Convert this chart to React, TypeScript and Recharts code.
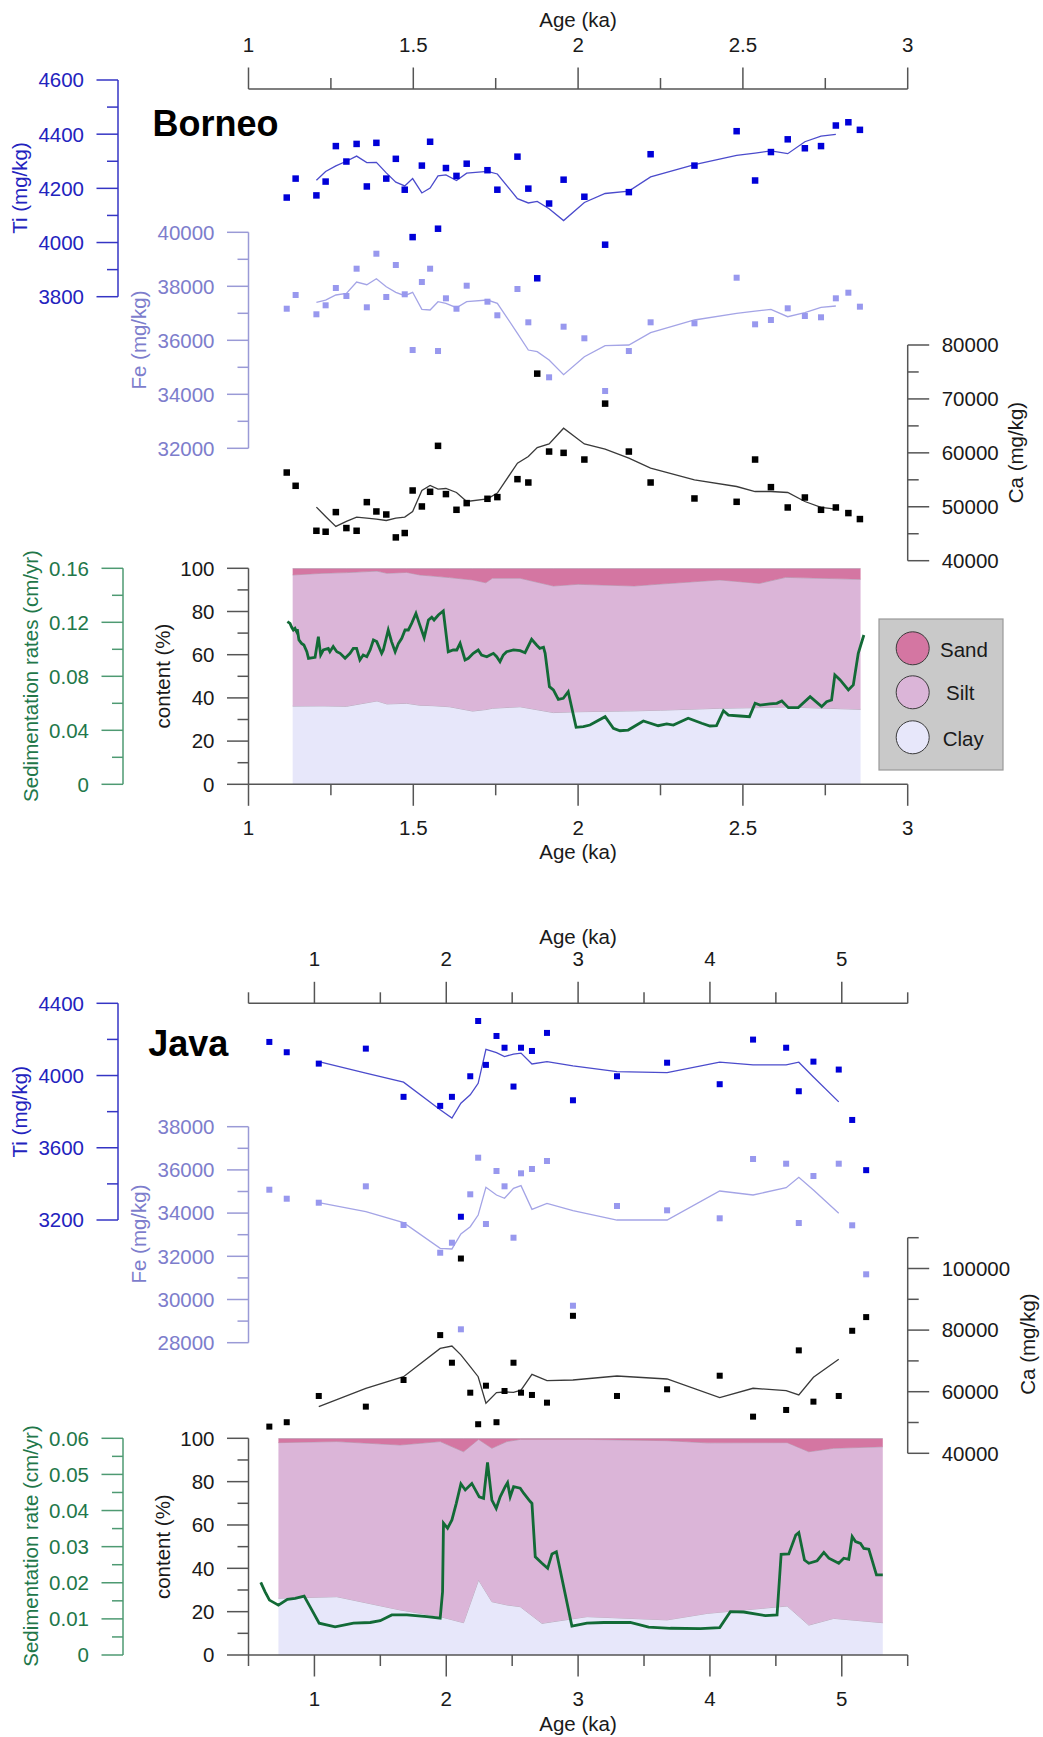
import React from 'react';
import { ComposedChart, XAxis, YAxis, Line, Scatter, Area } from 'recharts';

const PAGE_W = 1043;
const PAGE_H = 1737;
const FONT = "'Liberation Sans', Arial, Helvetica, sans-serif";
const FS = 20.5;

// ---------------- Borneo data ----------------
const borneoAge = [1.116,1.143,1.206,1.234,1.265,1.297,1.328,1.359,1.388,1.418,1.447,1.474,1.498,1.526,1.551,1.575,1.599,1.631,1.662,1.725,1.755,1.816,1.849,1.876,1.912,1.956,2.019,2.082,2.154,2.220,2.353,2.481,2.537,2.585,2.636,2.688,2.737,2.782,2.820,2.855];
const borneoTi = [4166,4236,4174,4225,4356,4299,4364,4207,4368,4236,4309,4195,4020,4284,4372,4051,4275,4246,4291,4267,4195,4317,4199,3868,4144,4232,4169,3992,4186,4326,4284,4411,4229,4334,4381,4348,4356,4432,4444,4416];
const borneoFe = [37170,37678,36963,37296,37937,37641,38652,37222,39207,37604,38789,37704,35640,38159,38652,35603,37555,37170,38022,37430,36926,37900,36666,null,34629,36504,36074,34122,35603,36666,36629,38318,36592,36752,37185,36900,36852,37555,37763,37245];
const borneoCa = [56350,53890,45550,45370,49010,46050,45550,50860,49130,48570,44320,45130,53020,50060,52780,61300,52350,49440,50680,51480,51790,55120,54500,74690,60240,60000,58760,69130,60240,54500,51540,50920,58760,53640,49870,51720,49440,49870,48830,47720];

const borneoSmoothAge = [1.206,1.234,1.265,1.297,1.328,1.359,1.388,1.418,1.447,1.474,1.498,1.526,1.551,1.575,1.599,1.631,1.662,1.725,1.755,1.816,1.849,1.876,1.912,1.956,2.019,2.082,2.154,2.220,2.353,2.481,2.537,2.585,2.636,2.688,2.737,2.782];
const borneoTiSmooth = [4230,4262,4283,4300,4319,4295,4296,4257,4223,4209,4236,4183,4201,4246,4250,4229,4256,4263,4253,4162,4146,4152,4125,4081,4148,4181,4190,4242,4288,4322,4330,4338,4328,4372,4393,4399];
const borneoFeSmooth = [37407,37492,37678,37740,38159,38060,38281,37985,37778,37652,37778,37148,37122,37430,37370,37207,37430,37492,37370,36259,35640,35578,35270,34726,35393,35800,35826,36282,36752,37000,37080,37148,36874,37022,37222,37270];
const borneoCaSmooth = [49940,48200,46350,47280,48090,47900,47720,47460,47900,48090,49130,53020,53940,53280,53390,52650,50980,51480,52540,58090,59310,60980,61660,64570,61660,60680,59010,57170,55000,53760,52830,52830,52650,50980,49870,49570];

const borneoGrainAge = [1.134,1.226,1.297,1.39,1.42,1.48,1.52,1.56,1.61,1.68,1.72,1.74,1.824,1.925,2.0,2.17,2.25,2.43,2.55,2.63,2.857];
const borneoClay = [36.2,36.3,36.1,38.6,37.2,37.5,36.6,36.4,35.9,33.9,34.6,35.2,35.9,33.2,33.6,34.0,34.3,35.2,35.5,35.8,34.7];
const borneoSilt = [60.7,61.4,61.9,60.1,60.5,60.6,60.3,60.0,59.8,60.7,58.7,60.2,59.5,58.6,59.0,57.8,58.4,59.4,57.5,60.0,60.2];
const borneoSand = [3.1,2.3,2.0,1.3,2.3,1.9,3.1,3.6,4.3,5.4,6.7,4.6,4.6,8.2,7.4,8.2,7.3,5.4,7.0,4.2,5.1];

const borneoSedAge = [1.118,1.126,1.131,1.136,1.141,1.146,1.148,1.153,1.161,1.168,1.177,1.182,1.202,1.212,1.219,1.227,1.242,1.247,1.257,1.268,1.278,1.293,1.308,1.318,1.328,1.338,1.348,1.359,1.369,1.379,1.389,1.404,1.409,1.424,1.434,1.445,1.455,1.465,1.475,1.485,1.495,1.508,1.518,1.533,1.546,1.556,1.563,1.576,1.591,1.606,1.621,1.632,1.642,1.657,1.667,1.682,1.697,1.707,1.723,1.733,1.743,1.753,1.763,1.773,1.783,1.804,1.824,1.839,1.859,1.874,1.884,1.895,1.900,1.913,1.925,1.940,1.955,1.970,1.994,2.016,2.036,2.082,2.107,2.127,2.152,2.198,2.243,2.269,2.289,2.334,2.375,2.400,2.420,2.441,2.456,2.491,2.520,2.537,2.552,2.582,2.603,2.618,2.638,2.668,2.704,2.739,2.754,2.769,2.779,2.795,2.820,2.835,2.850,2.867];
const borneoSed = [0.1205,0.1192,0.1163,0.1143,0.1155,0.1131,0.1148,0.1069,0.1044,0.1032,0.0982,0.0933,0.0941,0.1094,0.0958,0.0995,0.1007,0.0982,0.1020,0.0982,0.0970,0.0933,0.0970,0.1007,0.1007,0.0921,0.0958,0.0945,0.0995,0.1069,0.1057,0.0970,0.0995,0.1143,0.1057,0.0982,0.1044,0.1081,0.1143,0.1143,0.1192,0.1266,0.1192,0.1086,0.1217,0.1237,0.1217,0.1254,0.1284,0.0982,0.0995,0.0995,0.1044,0.0921,0.0933,0.0970,0.0995,0.0958,0.0945,0.0958,0.0970,0.0945,0.0908,0.0958,0.0982,0.0995,0.0990,0.0975,0.1074,0.1032,0.1007,0.1015,0.0970,0.0723,0.0699,0.0629,0.0637,0.0686,0.0422,0.0427,0.0439,0.0501,0.0415,0.0397,0.0402,0.0469,0.0434,0.0447,0.0439,0.0489,0.0452,0.0432,0.0434,0.0545,0.0513,0.0506,0.0501,0.0600,0.0587,0.0595,0.0600,0.0617,0.0568,0.0568,0.0649,0.0575,0.0612,0.0624,0.0810,0.0773,0.0699,0.0736,0.0970,0.1106];

// ---------------- Java data ----------------
const javaAge = [0.658,0.790,1.033,1.390,1.676,1.954,2.043,2.111,2.182,2.242,2.301,2.381,2.442,2.510,2.567,2.650,2.764,2.961,3.295,3.675,4.074,4.327,4.578,4.674,4.785,4.977,5.079,5.185];
const javaTi = [4186,4129,4066,4149,3882,3832,3882,3218,3996,4302,4059,4219,4154,3939,4154,4136,4236,3863,3996,4071,3952,4199,4154,3913,4077,4033,3754,3476];
const javaFe = [35083,34666,34481,35240,33449,32166,32629,28620,34870,36565,33495,35949,35240,32861,35842,36042,36412,29712,34329,34129,33759,36505,36287,33541,35717,36287,33435,31166];
const javaCa = [48670,50090,58610,55150,63800,78380,69410,103240,59680,49440,61950,50090,60230,69410,59680,58940,56440,84640,58610,60780,65190,51900,54070,73420,56770,58610,79780,84220];

const javaSmoothAge = [1.033,1.390,1.676,1.954,2.043,2.111,2.182,2.242,2.301,2.381,2.442,2.510,2.567,2.650,2.764,2.961,3.295,3.675,4.074,4.327,4.578,4.674,4.785,4.977];
const javaTiSmooth = [4077,4013,3963,3810,3764,3847,3893,3957,4145,4127,4105,4119,4124,4064,4077,4053,4022,4016,4074,4059,4059,4074,3992,3854];
const javaFeSmooth = [34481,34065,33555,32370,32340,33032,33370,33912,35194,34838,34685,35148,35270,34175,34453,34111,33680,33680,35023,34838,35176,35657,35069,33990];
const javaCaSmooth = [55150,61110,64870,74070,74820,71960,68110,64870,56250,59700,59900,59800,60500,65640,63570,63800,65100,64120,58060,61110,60330,58940,64670,70510];

const javaGrainAge = [0.727,1.170,1.650,1.954,2.131,2.245,2.346,2.460,2.561,2.726,3.068,3.675,3.979,4.586,4.750,4.939,5.311];
const javaClay = [26.2,26.9,20.8,17.7,14.9,34.6,24.6,23.1,22.3,14.6,17.7,16.2,19.2,22.6,13.8,16.9,14.9];
const javaSilt = [71.8,71.6,76.1,80.8,78.9,64.9,70.8,75.4,77.2,84.9,81.8,82.7,78.7,75.4,80.0,78.5,81.2];
const javaSand = [2.0,1.5,3.1,1.5,6.2,0.5,4.6,1.5,0.5,0.5,0.5,1.1,2.1,2.0,6.2,4.6,3.9];

const javaSedAge = [0.593,0.626,0.659,0.727,0.795,0.854,0.922,0.980,1.036,1.157,1.296,1.423,1.499,1.587,1.701,1.853,1.954,1.972,1.979,2.010,2.043,2.076,2.111,2.144,2.194,2.250,2.283,2.313,2.346,2.379,2.409,2.447,2.465,2.485,2.511,2.561,2.587,2.637,2.650,2.675,2.726,2.769,2.802,2.835,2.953,3.067,3.194,3.396,3.535,3.700,3.928,4.074,4.155,4.256,4.421,4.509,4.540,4.598,4.651,4.674,4.717,4.750,4.813,4.864,4.902,4.977,5.015,5.053,5.079,5.104,5.142,5.167,5.205,5.263,5.311];
const javaSed = [0.0201,0.0175,0.0152,0.0138,0.0154,0.0157,0.0163,0.0125,0.0088,0.0078,0.0088,0.0090,0.0095,0.0111,0.0111,0.0106,0.0102,0.0175,0.0365,0.0351,0.0374,0.0420,0.0474,0.0457,0.0475,0.0438,0.0434,0.0533,0.0429,0.0406,0.0438,0.0466,0.0477,0.0438,0.0466,0.0462,0.0448,0.0425,0.0420,0.0272,0.0254,0.0240,0.0280,0.0286,0.0080,0.0088,0.0090,0.0090,0.0077,0.0074,0.0073,0.0076,0.0120,0.0119,0.0109,0.0111,0.0279,0.0280,0.0332,0.0339,0.0263,0.0254,0.0261,0.0284,0.0268,0.0254,0.0268,0.0265,0.0328,0.0314,0.0309,0.0295,0.0293,0.0222,0.0222];

// ---------------- ticks ----------------
const borneoXTicks = [1,1.25,1.5,1.75,2,2.25,2.5,2.75,3];
const borneoXMajor = [1,1.5,2,2.5,3];
const javaXTicks = [0.5,1,1.5,2,2.5,3,3.5,4,4.5,5,5.5];
const javaXMajor = [1,2,3,4,5];
const borneoTiTicks = [3800,3900,4000,4100,4200,4300,4400,4500,4600];
const borneoTiMajor = [3800,4000,4200,4400,4600];
const borneoFeTicks = [32000,33000,34000,35000,36000,37000,38000,39000,40000];
const borneoFeMajor = [32000,34000,36000,38000,40000];
const borneoCaTicks = [40000,45000,50000,55000,60000,65000,70000,75000,80000];
const borneoCaMajor = [40000,50000,60000,70000,80000];
const contentTicks = [0,10,20,30,40,50,60,70,80,90,100];
const contentMajor = [0,20,40,60,80,100];
const borneoSedTicks = [0,0.02,0.04,0.06,0.08,0.1,0.12,0.14,0.16];
const borneoSedMajor = [0,0.04,0.08,0.12,0.16];
const javaTiTicks = [3200,3400,3600,3800,4000,4200,4400];
const javaTiMajor = [3200,3600,4000,4400];
const javaFeTicks = [28000,29000,30000,31000,32000,33000,34000,35000,36000,37000,38000];
const javaFeMajor = [28000,30000,32000,34000,36000,38000];
const javaCaTicks = [40000,50000,60000,70000,80000,90000,100000,110000];
const javaCaMajor = [40000,60000,80000,100000];
const javaSedTicks = [0,0.005,0.01,0.015,0.02,0.025,0.03,0.035,0.04,0.045,0.05,0.055,0.06];
const javaSedMajor = [0,0.01,0.02,0.03,0.04,0.05,0.06];

// ---------------- colors ----------------
const C = {
  tiAxis: '#3535c4', tiText: '#2323be', tiMark: '#0000d8', tiLine: '#4b4bcc',
  feAxis: '#9a9ad6', feText: '#7d7dcc', feMark: '#9898ee', feLine: '#a4a4e6',
  caAxis: '#555555', caText: '#1a1a1a', caMark: '#000000', caLine: '#3a3a3a',
  sedAxis: '#4e9a72', sedText: '#22774a', sedLine: '#126a36',
  axis: '#555555', text: '#1a1a1a',
  sand: '#d476a2', silt: '#dbb5d8', clay: '#e7e7fa', areaEdge: '#ab9cae',
};

// ---------------- geometry helpers ----------------
const kaB = (px: number) => 1 + (px - 248.5) / 329.6;
const kaJ = (px: number) => 0.5 + (px - 248.5) / 131.84;

const pts = (ages: number[], vals: (number | null)[]) =>
  ages.map((a, i) => ({ age: a, v: vals[i] })).filter((d) => d.v !== null);

const grain = (ages: number[], clay: number[], silt: number[], sand: number[]) =>
  ages.map((a, i) => ({ age: a, clay: clay[i], silt: silt[i], sand: sand[i] }));

function Layer(props: any) {
  const { l, t, r, b, lw = 0, rw = 0, th = 0, bh = 0, data, children } = props;
  return (
    <div style={{ position: 'absolute', left: 0, top: 0, width: PAGE_W, height: PAGE_H }}>
      <ComposedChart
        width={PAGE_W}
        height={PAGE_H}
        data={data}
        margin={{ left: l - lw, top: t - th, right: PAGE_W - r - rw, bottom: PAGE_H - b - bh }}
      >
        {children}
      </ComposedChart>
    </div>
  );
}

function yTick(side: 'left' | 'right', majors: number[], lineColor: string, textColor: string) {
  return (p: any) => {
    const { x, y, payload } = p;
    const v = payload.value;
    const major = majors.includes(v);
    const len = major ? 21.5 : 11;
    const s = side === 'left' ? -1 : 1;
    return (
      <g>
        <line x1={x} y1={y} x2={x + s * len} y2={y} stroke={lineColor} strokeWidth={1.5} />
        {major && (
          <text
            x={x + s * (21.5 + 12.5)}
            y={y}
            dy="0.36em"
            textAnchor={side === 'left' ? 'end' : 'start'}
            fill={textColor}
            fontSize={FS}
            fontFamily={FONT}
          >
            {String(v)}
          </text>
        )}
      </g>
    );
  };
}

function xTick(side: 'top' | 'bottom', majors: number[], labelOffset: number) {
  return (p: any) => {
    const { x, y, payload } = p;
    const v = payload.value;
    const major = majors.includes(v);
    const len = major ? 21.5 : 11;
    const s = side === 'top' ? -1 : 1;
    return (
      <g>
        <line x1={x} y1={y} x2={x} y2={y + s * len} stroke={C.axis} strokeWidth={1.5} />
        {major && (
          <text x={x} y={y + labelOffset} textAnchor="middle" fill={C.text} fontSize={FS} fontFamily={FONT}>
            {String(v)}
          </text>
        )}
      </g>
    );
  };
}

const square = (size: number, color: string) => (p: any) =>
  p.cx == null ? <g /> : <rect x={p.cx - size / 2} y={p.cy - size / 2} width={size} height={size} fill={color} />;

function VText(props: any) {
  const { x, y, color, children } = props;
  return (
    <text
      x={x}
      y={y}
      transform={`rotate(-90, ${x}, ${y})`}
      textAnchor="middle"
      fill={color}
      fontSize={FS}
      fontFamily={FONT}
    >
      {children}
    </text>
  );
}

function ElementLayer(props: any) {
  const { l, r, t, b, side, xDomain, yDomain, ticks, majors, axisColor, textColor, samples, smooth, mark, line, markSize } = props;
  const isLeft = side === 'left';
  return (
    <Layer l={l} r={r} t={t} b={b} lw={isLeft ? 100 : 0} rw={isLeft ? 0 : 100}>
      <XAxis type="number" dataKey="age" domain={xDomain} allowDataOverflow hide />
      <YAxis
        type="number"
        orientation={side}
        width={100}
        domain={yDomain}
        allowDataOverflow
        ticks={ticks}
        interval={0}
        tickSize={0}
        tickMargin={0}
        tickLine={false}
        axisLine={{ stroke: axisColor, strokeWidth: 1.5 }}
        tick={yTick(side, majors, axisColor, textColor)}
      />
      <Line data={smooth} dataKey="v" stroke={line} strokeWidth={1.3} dot={false} isAnimationActive={false} />
      <Scatter data={samples} dataKey="v" shape={square(markSize, mark)} isAnimationActive={false} />
    </Layer>
  );
}

function ContentLayer(props: any) {
  const { t, b, xDomain, xTicks, xMajor, data } = props;
  return (
    <Layer l={248.5} r={907.7} t={t} b={b} lw={100} bh={80} data={data}>
      <XAxis
        type="number"
        dataKey="age"
        domain={xDomain}
        allowDataOverflow
        orientation="bottom"
        height={80}
        ticks={xTicks}
        interval={0}
        tickSize={0}
        tickMargin={0}
        tickLine={false}
        axisLine={{ stroke: C.axis, strokeWidth: 1.5 }}
        tick={xTick('bottom', xMajor, 50.7)}
      />
      <YAxis
        type="number"
        width={100}
        domain={[0, 100]}
        allowDataOverflow
        ticks={contentTicks}
        interval={0}
        tickSize={0}
        tickMargin={0}
        tickLine={false}
        axisLine={{ stroke: C.axis, strokeWidth: 1.5 }}
        tick={yTick('left', contentMajor, C.axis, C.text)}
      />
      <Area type="linear" dataKey="clay" stackId="g" fill={C.clay} fillOpacity={1} stroke={C.areaEdge} strokeWidth={0.8} isAnimationActive={false} />
      <Area type="linear" dataKey="silt" stackId="g" fill={C.silt} fillOpacity={1} stroke={C.areaEdge} strokeWidth={0.8} isAnimationActive={false} />
      <Area type="linear" dataKey="sand" stackId="g" fill={C.sand} fillOpacity={1} stroke={C.areaEdge} strokeWidth={0.8} isAnimationActive={false} />
    </Layer>
  );
}

function SedLayer(props: any) {
  const { t, b, xDomain, yDomain, ticks, majors, data } = props;
  return (
    <Layer l={123} r={907.7} t={t} b={b} lw={100}>
      <XAxis type="number" dataKey="age" domain={xDomain} allowDataOverflow hide />
      <YAxis
        type="number"
        width={100}
        domain={yDomain}
        allowDataOverflow
        ticks={ticks}
        interval={0}
        tickSize={0}
        tickMargin={0}
        tickLine={false}
        axisLine={{ stroke: C.sedAxis, strokeWidth: 1.5 }}
        tick={yTick('left', majors, C.sedAxis, C.sedText)}
      />
      <Line data={data} dataKey="v" stroke={C.sedLine} strokeWidth={2.8} dot={false} isAnimationActive={false} />
    </Layer>
  );
}

function TopAxisLayer(props: any) {
  const { t, xDomain, xTicks, xMajor, children } = props;
  return (
    <Layer l={248.5} r={907.7} t={t} b={t + 100} th={60}>
      <XAxis
        type="number"
        dataKey="age"
        domain={xDomain}
        allowDataOverflow
        orientation="top"
        height={60}
        ticks={xTicks}
        interval={0}
        tickSize={0}
        tickMargin={0}
        tickLine={false}
        axisLine={{ stroke: C.axis, strokeWidth: 1.5 }}
        tick={xTick('top', xMajor, -37.5)}
      />
      <YAxis type="number" domain={[0, 1]} hide />
      {children}
    </Layer>
  );
}

function TextLayer(props: any) {
  return (
    <Layer l={0} r={PAGE_W} t={0} b={PAGE_H}>
      <XAxis type="number" domain={[0, 1]} hide />
      <YAxis type="number" domain={[0, 1]} hide />
      {props.children}
    </Layer>
  );
}

export default function App() {
  return (
    <div style={{ position: 'absolute', left: 0, top: 0, width: PAGE_W, height: PAGE_H, background: '#ffffff' }}>
      {/* ===== Borneo ===== */}
      <ContentLayer t={568.3} b={784.3} xDomain={[1, 3]} xTicks={borneoXTicks} xMajor={borneoXMajor}
        data={grain(borneoGrainAge, borneoClay, borneoSilt, borneoSand)} />
      <SedLayer t={568.3} b={784.3} xDomain={[kaB(123), 3]} yDomain={[0, 0.16]} ticks={borneoSedTicks}
        majors={borneoSedMajor} data={pts(borneoSedAge, borneoSed)} />
      <ElementLayer l={248.5} r={907.7} t={345} b={560.7} side="right" xDomain={[1, 3]} yDomain={[40000, 80000]}
        ticks={borneoCaTicks} majors={borneoCaMajor} axisColor={C.caAxis} textColor={C.caText}
        samples={pts(borneoAge, borneoCa)} smooth={pts(borneoSmoothAge, borneoCaSmooth)} mark={C.caMark} line={C.caLine} markSize={6.5} />
      <ElementLayer l={248.5} r={907.7} t={232.3} b={448.3} side="left" xDomain={[1, 3]} yDomain={[32000, 40000]}
        ticks={borneoFeTicks} majors={borneoFeMajor} axisColor={C.feAxis} textColor={C.feText}
        samples={pts(borneoAge, borneoFe)} smooth={pts(borneoSmoothAge, borneoFeSmooth)} mark={C.feMark} line={C.feLine} markSize={6} />
      <ElementLayer l={118} r={907.7} t={80} b={296.7} side="left" xDomain={[kaB(118), 3]} yDomain={[3800, 4600]}
        ticks={borneoTiTicks} majors={borneoTiMajor} axisColor={C.tiAxis} textColor={C.tiText}
        samples={pts(borneoAge, borneoTi)} smooth={pts(borneoSmoothAge, borneoTiSmooth)} mark={C.tiMark} line={C.tiLine} markSize={6.5} />
      <TopAxisLayer t={89} xDomain={[1, 3]} xTicks={borneoXTicks} xMajor={borneoXMajor} />

      {/* ===== Java ===== */}
      <ContentLayer t={1438.3} b={1655} xDomain={[0.5, 5.5]} xTicks={javaXTicks} xMajor={javaXMajor}
        data={grain(javaGrainAge, javaClay, javaSilt, javaSand)} />
      <SedLayer t={1438.3} b={1655} xDomain={[kaJ(123), 5.5]} yDomain={[0, 0.06]} ticks={javaSedTicks}
        majors={javaSedMajor} data={pts(javaSedAge, javaSed)} />
      <ElementLayer l={248.5} r={907.7} t={1237.7} b={1453.3} side="right" xDomain={[0.5, 5.5]} yDomain={[40000, 110000]}
        ticks={javaCaTicks} majors={javaCaMajor} axisColor={C.caAxis} textColor={C.caText}
        samples={pts(javaAge, javaCa)} smooth={pts(javaSmoothAge, javaCaSmooth)} mark={C.caMark} line={C.caLine} markSize={6} />
      <ElementLayer l={248.5} r={907.7} t={1126.7} b={1342.7} side="left" xDomain={[0.5, 5.5]} yDomain={[28000, 38000]}
        ticks={javaFeTicks} majors={javaFeMajor} axisColor={C.feAxis} textColor={C.feText}
        samples={pts(javaAge, javaFe)} smooth={pts(javaSmoothAge, javaFeSmooth)} mark={C.feMark} line={C.feLine} markSize={6} />
      <ElementLayer l={118} r={907.7} t={1003.3} b={1220} side="left" xDomain={[kaJ(118), 5.5]} yDomain={[3200, 4400]}
        ticks={javaTiTicks} majors={javaTiMajor} axisColor={C.tiAxis} textColor={C.tiText}
        samples={pts(javaAge, javaTi)} smooth={pts(javaSmoothAge, javaTiSmooth)} mark={C.tiMark} line={C.tiLine} markSize={6} />
      <TopAxisLayer t={1003.3} xDomain={[0.5, 5.5]} xTicks={javaXTicks} xMajor={javaXMajor} />

      {/* ===== titles, labels, legend ===== */}
      <TextLayer>
        <text x={578} y={27} textAnchor="middle" fill={C.text} fontSize={FS} fontFamily={FONT}>Age (ka)</text>
        <text x={152.5} y={135.5} fill="#000" fontSize={36} fontWeight="bold" fontFamily={FONT}>Borneo</text>
        <VText x={27} y={188} color={C.tiText}>Ti (mg/kg)</VText>
        <VText x={145.5} y={340} color={C.feText}>Fe (mg/kg)</VText>
        <VText x={1023} y={452.5} color={C.caText}>Ca (mg/kg)</VText>
        <VText x={170} y={676} color={C.text}>content (%)</VText>
        <VText x={38.3} y={676} color={C.sedText}>Sedimentation rates (cm/yr)</VText>
        <text x={578} y={859} textAnchor="middle" fill={C.text} fontSize={FS} fontFamily={FONT}>Age (ka)</text>

        <rect x={879} y={619} width={124} height={151} fill="#c9c9c9" stroke="#9a9a9a" strokeWidth={1.2} />
        <circle cx={912.7} cy={648.3} r={16.5} fill={C.sand} stroke="#3a3a3a" strokeWidth={1} />
        <circle cx={912.7} cy={692.3} r={16.5} fill={C.silt} stroke="#3a3a3a" strokeWidth={1} />
        <circle cx={912.7} cy={737.3} r={16.5} fill={C.clay} stroke="#3a3a3a" strokeWidth={1} />
        <text x={940} y={656.5} fill={C.text} fontSize={FS} fontFamily={FONT}>Sand</text>
        <text x={946} y={699.5} fill={C.text} fontSize={FS} fontFamily={FONT}>Silt</text>
        <text x={942.7} y={745.5} fill={C.text} fontSize={FS} fontFamily={FONT}>Clay</text>

        <text x={578} y={944} textAnchor="middle" fill={C.text} fontSize={FS} fontFamily={FONT}>Age (ka)</text>
        <text x={148.3} y={1056} fill="#000" fontSize={36} fontWeight="bold" fontFamily={FONT}>Java</text>
        <VText x={27} y={1111.7} color={C.tiText}>Ti (mg/kg)</VText>
        <VText x={145.5} y={1234} color={C.feText}>Fe (mg/kg)</VText>
        <VText x={1035} y={1344} color={C.caText}>Ca (mg/kg)</VText>
        <VText x={170} y={1546.7} color={C.text}>content (%)</VText>
        <VText x={38} y={1546} color={C.sedText}>Sedimentation rate (cm/yr)</VText>
        <text x={578} y={1731} textAnchor="middle" fill={C.text} fontSize={FS} fontFamily={FONT}>Age (ka)</text>
      </TextLayer>
    </div>
  );
}
